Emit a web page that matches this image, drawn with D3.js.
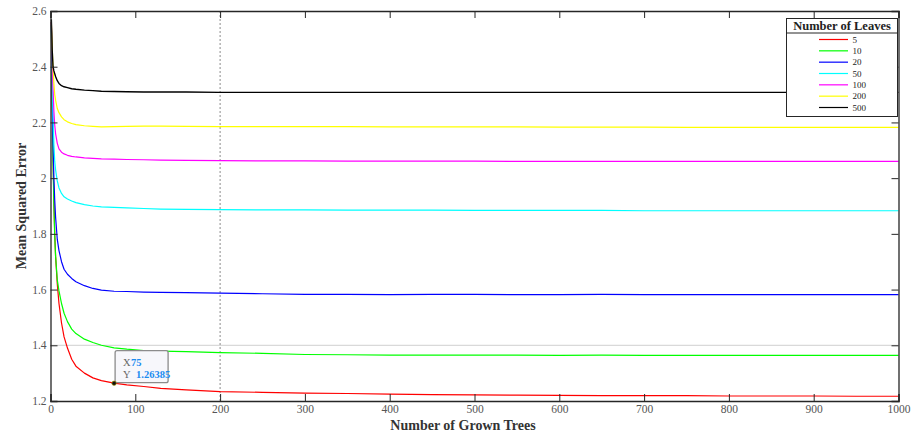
<!DOCTYPE html>
<html>
<head>
<meta charset="utf-8">
<script src="https://cdn.jsdelivr.net/npm/d3@7"></script>
<style>
  html, body { margin: 0; padding: 0; background: #fff; }
  svg { display: block; font-family: "Liberation Serif", "Times New Roman", serif; }
</style>
</head>
<body>
<svg id="chart" width="913" height="432"></svg>
<script>
// Number of grown trees at which the out-of-bag error was recorded
const trees = [1, 2, 3, 4, 5, 6, 8, 10, 13, 16, 20, 25, 30, 40, 50, 60, 75, 90, 110, 130, 160, 200,
  250, 300, 350, 400, 450, 500, 550, 600, 650, 700, 750, 800, 850, 900, 950, 1000];

// Mean squared error per minimum leaf size
const mse5 = [2.56, 2.30, 2.08, 1.92, 1.80, 1.72, 1.62, 1.55, 1.48, 1.43, 1.39, 1.35, 1.325, 1.300, 1.283, 1.273, 1.26385, 1.258, 1.252, 1.245, 1.240, 1.234,
  1.231, 1.228, 1.227, 1.225, 1.223, 1.222, 1.221, 1.220, 1.219, 1.219, 1.219, 1.218, 1.218, 1.218, 1.217, 1.217];
const mse10 = [2.55, 2.28, 2.06, 1.90, 1.79, 1.72, 1.635, 1.595, 1.55, 1.515, 1.485, 1.458, 1.442, 1.422, 1.410, 1.400, 1.391, 1.386, 1.381, 1.379, 1.377, 1.374,
  1.371, 1.367, 1.366, 1.365, 1.365, 1.365, 1.365, 1.364, 1.365, 1.364, 1.364, 1.364, 1.364, 1.364, 1.364, 1.364];
const mse20 = [2.56, 2.30, 2.12, 2.00, 1.92, 1.86, 1.78, 1.74, 1.70, 1.673, 1.655, 1.640, 1.628, 1.614, 1.604, 1.598, 1.594, 1.593, 1.591, 1.590, 1.589, 1.587,
  1.585, 1.583, 1.583, 1.582, 1.583, 1.583, 1.582, 1.582, 1.583, 1.582, 1.582, 1.582, 1.582, 1.582, 1.582, 1.582];
const mse50 = [2.55, 2.36, 2.22, 2.12, 2.06, 2.03, 1.99, 1.965, 1.945, 1.933, 1.925, 1.918, 1.912, 1.905, 1.900, 1.897, 1.895, 1.893, 1.891, 1.889, 1.888, 1.887,
  1.886, 1.886, 1.885, 1.885, 1.885, 1.884, 1.884, 1.884, 1.884, 1.883, 1.883, 1.883, 1.883, 1.883, 1.883, 1.883];
const mse100 = [2.56, 2.42, 2.32, 2.24, 2.19, 2.16, 2.125, 2.105, 2.093, 2.087, 2.082, 2.078, 2.076, 2.073, 2.071, 2.069, 2.068, 2.067, 2.066, 2.065, 2.064, 2.063,
  2.062, 2.062, 2.061, 2.061, 2.061, 2.061, 2.060, 2.060, 2.060, 2.060, 2.060, 2.060, 2.060, 2.060, 2.060, 2.060];
const mse200 = [2.56, 2.47, 2.39, 2.34, 2.30, 2.28, 2.25, 2.235, 2.22, 2.21, 2.202, 2.196, 2.192, 2.188, 2.186, 2.184, 2.185, 2.186, 2.187, 2.187, 2.186, 2.185,
  2.185, 2.185, 2.185, 2.184, 2.184, 2.184, 2.184, 2.183, 2.183, 2.183, 2.182, 2.182, 2.182, 2.182, 2.182, 2.182];
const mse500 = [2.57, 2.46, 2.40, 2.385, 2.375, 2.365, 2.35, 2.34, 2.332, 2.328, 2.325, 2.321, 2.319, 2.316, 2.314, 2.312, 2.311, 2.310, 2.309, 2.309, 2.309, 2.308,
  2.308, 2.308, 2.308, 2.308, 2.308, 2.308, 2.308, 2.308, 2.308, 2.308, 2.308, 2.308, 2.308, 2.308, 2.308, 2.308];

const leafSizes = ["5", "10", "20", "50", "100", "200", "500"];
const seriesColors = ["#ff0000", "#00ff00", "#0000ff", "#00ffff", "#ff00ff", "#ffff00", "#000000"];
const seriesValues = [mse5, mse10, mse20, mse50, mse100, mse200, mse500];

const xTicks = [0, 100, 200, 300, 400, 500, 600, 700, 800, 900, 1000];
const yTicks = [1.2, 1.4, 1.6, 1.8, 2, 2.2, 2.4, 2.6];

// Reference lines and the highlighted data point
const markerTrees = 200;
const referenceMse = 1.4;
const tipTrees = 75;
const tipMse = 1.26385;

const svg = d3.select("#chart");
const plotLeft = 50.5, plotRight = 898.5, plotTop = 11, plotBottom = 401;

const x = d3.scaleLinear().domain([0, 1000]).range([plotLeft, plotRight]);
const y = d3.scaleLinear().domain([1.2, 2.6]).range([plotBottom, plotTop]);

const axisColor = "#262626";
const tickColor = "#555";

// Horizontal reference at MSE 1.4
svg.append("line")
  .attr("x1", x(0)).attr("x2", x(1000))
  .attr("y1", y(referenceMse)).attr("y2", y(referenceMse))
  .attr("stroke", "#cfcfcf").attr("stroke-width", 1);

// Vertical dotted marker
svg.append("line")
  .attr("x1", x(markerTrees)).attr("x2", x(markerTrees))
  .attr("y1", plotTop).attr("y2", plotBottom)
  .attr("stroke", "#8a8a8a").attr("stroke-width", 1)
  .attr("stroke-dasharray", "2,2");

// Error curves
const line = d3.line()
  .x((d, i) => x(trees[i]))
  .y(d => y(d));

seriesValues.forEach((vals, k) => {
  svg.append("path")
    .datum(vals)
    .attr("d", line)
    .attr("fill", "none")
    .attr("stroke", seriesColors[k])
    .attr("stroke-width", k === 6 ? 1.4 : 1.2)
    .attr("stroke-linejoin", "round");
});

// Axes with inward ticks on all four sides
const bottomAxis = d3.axisBottom(x).tickValues(xTicks).tickSize(-7).tickPadding(4).tickFormat(d3.format("d"));
const leftAxis = d3.axisLeft(y).tickValues(yTicks).tickSize(-7).tickPadding(4).tickFormat(d => String(d));
const topAxis = d3.axisTop(x).tickValues(xTicks).tickSize(-7).tickFormat("");
const rightAxis = d3.axisRight(y).tickValues(yTicks).tickSize(-7).tickFormat("");

function styleAxis(g) {
  g.select(".domain").attr("stroke", axisColor).attr("stroke-width", 1.3);
  g.selectAll(".tick line").attr("stroke", axisColor).attr("stroke-width", 1);
  g.selectAll(".tick text")
    .attr("fill", tickColor)
    .style("font-family", "'Liberation Serif', 'Times New Roman', serif")
    .style("font-size", "11.5px");
}

svg.append("g").attr("transform", `translate(0,${plotBottom})`).call(bottomAxis).call(styleAxis);
svg.append("g").attr("transform", `translate(${plotLeft},0)`).call(leftAxis).call(styleAxis);
svg.append("g").attr("transform", `translate(0,${plotTop})`).call(topAxis).call(styleAxis);
svg.append("g").attr("transform", `translate(${plotRight},0)`).call(rightAxis).call(styleAxis);

// Axis titles
svg.append("text")
  .attr("x", 463).attr("y", 430)
  .attr("text-anchor", "middle")
  .attr("fill", "#333")
  .style("font-weight", "bold")
  .style("font-size", "14px")
  .text("Number of Grown Trees");

svg.append("text")
  .attr("transform", `translate(26,${(plotTop + plotBottom) / 2}) rotate(-90)`)
  .attr("text-anchor", "middle")
  .attr("fill", "#333")
  .style("font-weight", "bold")
  .style("font-size", "14px")
  .text("Mean Squared Error");

// Legend
const lg = svg.append("g").attr("transform", "translate(786.5,18.5)");
const lgW = 111, lgH = 98;
lg.append("rect")
  .attr("width", lgW).attr("height", lgH)
  .attr("fill", "#fff").attr("stroke", axisColor).attr("stroke-width", 1);
lg.append("text")
  .attr("x", lgW / 2).attr("y", 11)
  .attr("text-anchor", "middle")
  .attr("fill", "#222")
  .style("font-weight", "bold")
  .style("font-size", "12.5px")
  .text("Number of Leaves");
lg.append("line")
  .attr("x1", 0).attr("x2", lgW).attr("y1", 14.5).attr("y2", 14.5)
  .attr("stroke", axisColor).attr("stroke-width", 1);

const legendY = d3.scalePoint().domain(leafSizes).range([21, 89]);
leafSizes.forEach((name, k) => {
  const yy = legendY(name);
  lg.append("line")
    .attr("x1", 32.5).attr("x2", 61.5).attr("y1", yy).attr("y2", yy)
    .attr("stroke", seriesColors[k]).attr("stroke-width", 1.2);
  lg.append("text")
    .attr("x", 66).attr("y", yy + 3)
    .attr("fill", "#222")
    .style("font-size", "9px")
    .text(name);
});

// Data tip on the 5-leaf curve
const px = x(tipTrees), py = y(tipMse);
svg.append("rect")
  .attr("x", px + 1).attr("y", py - 32.5)
  .attr("width", 53).attr("height", 32)
  .attr("rx", 2).attr("ry", 2)
  .attr("fill", "#f7f7fb")
  .attr("stroke", "#8c8c8c").attr("stroke-width", 1.3);
const tip = svg.append("g").style("font-size", "10.5px");
tip.append("text").attr("x", px + 9).attr("y", py - 17.5).attr("fill", "#666").text("X");
tip.append("text").attr("x", px + 17).attr("y", py - 17.5).attr("fill", "#1c8cf0").style("font-weight", "bold").text(String(tipTrees));
tip.append("text").attr("x", px + 9).attr("y", py - 5.5).attr("fill", "#666").text("Y");
tip.append("text").attr("x", px + 22).attr("y", py - 5.5).attr("fill", "#1c8cf0").style("font-weight", "bold").text(String(tipMse));
svg.append("circle")
  .attr("cx", px).attr("cy", py).attr("r", 2.2)
  .attr("fill", "#111").attr("stroke", "#b8a800").attr("stroke-width", 0.6);
</script>
</body>
</html>
